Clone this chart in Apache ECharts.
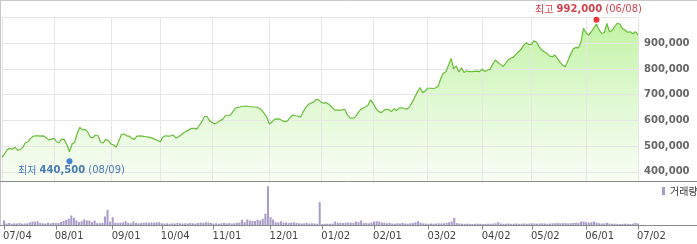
<!DOCTYPE html>
<html><head><meta charset="utf-8">
<script src="https://cdn.jsdelivr.net/npm/echarts@6/dist/echarts.min.js"></script>
<style>html,body{margin:0;padding:0;background:#fff}#c{width:697px;height:244px}</style>
</head><body><div id="c"></div><script>
// x-axis tick labels and the trading-day index they sit on
const tickLabels = ['07/04','08/01','09/01','10/04','11/01','12/01','01/02','02/01','03/02','04/02','05/02','06/01','07/02'];
const tickIndex  = [0, 20, 42, 61, 81, 103, 123, 143, 164, 185, 204, 225, 245];
// price axis
const priceGridValues = [400000, 500000, 600000, 700000, 800000, 900000, 1000000];
const priceLabelValues = [400000, 500000, 600000, 700000, 800000, 900000];
// daily closing prices
const closePrices = [
456000,470000,486000,491000,488000,495000,484000,486000,495000,513000,
517000,530000,538000,540000,540000,539000,540000,532000,524000,527000,
530000,517000,513000,528000,525000,505000,478000,508000,515000,550000,
573000,563000,565000,555000,535000,532000,543000,540000,515000,512000,
527000,520000,508000,504000,496000,520000,545000,547000,540000,539000,
530000,526000,539000,540000,539000,537000,536000,534000,530000,526000,
521000,517000,535000,540000,539000,540000,543000,531000,536000,543000,
552000,558000,563000,569000,569000,566000,580000,595000,615000,615000,
598000,592000,586000,592000,599000,604000,618000,620000,620000,635000,
648000,651000,653000,655000,656000,654000,653000,652000,651000,648000,
640000,627000,612000,586000,594000,604000,606000,605000,598000,595000,
598000,612000,621000,618000,616000,612000,633000,650000,662000,667000,
671000,682000,680000,670000,667000,669000,662000,652000,642000,640000,
640000,641000,643000,622000,610000,608000,612000,627000,641000,647000,
652000,659000,680000,665000,648000,635000,630000,638000,643000,642000,
634000,645000,638000,648000,649000,646000,644000,652000,670000,690000,
710000,728000,708000,714000,725000,725000,724000,726000,733000,762000,
783000,789000,815000,841000,800000,812000,788000,805000,786000,793000,
790000,790000,791000,792000,790000,799000,790000,795000,799000,818000,
835000,826000,818000,809000,822000,836000,842000,846000,858000,867000,
877000,893000,902000,895000,896000,910000,903000,885000,873000,866000,
860000,850000,848000,854000,840000,826000,815000,809000,832000,855000,
878000,884000,882000,903000,958000,940000,932000,945000,960000,975000,
952000,939000,941000,977000,945000,950000,965000,978000,975000,957000,
952000,943000,945000,937000,945000,933000];
// daily volume (thousand shares)
const volumes = [
50,20,25,18,22,20,25,18,20,22,
30,40,38,42,25,22,20,25,22,28,
25,25,35,45,57,67,100,77,50,33,
43,60,50,50,33,50,23,23,27,90,
157,40,83,27,25,28,30,43,25,22,
40,25,22,25,28,30,27,30,28,33,
33,22,20,22,18,22,20,25,22,20,
22,20,25,22,20,25,30,27,33,30,
25,20,22,18,22,25,22,25,20,22,
27,30,57,33,60,50,43,45,57,50,
67,117,393,83,60,33,30,43,27,30,
25,28,33,25,22,20,22,25,20,22,
20,18,233,15,17,18,17,20,40,27,
27,25,28,30,27,25,40,33,50,23,
25,22,30,40,43,40,30,27,22,27,
20,18,22,20,27,20,18,22,25,33,
43,28,22,20,18,20,18,20,22,20,
22,25,33,40,77,23,20,18,17,18,
17,15,17,18,17,15,17,18,17,20,
22,33,20,17,18,20,17,18,20,17,
18,20,18,20,22,20,18,20,22,20,
18,20,22,23,25,22,23,25,22,23,
25,27,25,40,40,33,27,33,40,30,
23,20,22,27,20,17,18,17,15,17,
18,17,15,18,27,20];
// extremes: [day index, price], label words, dates
const highPoint = [229, 992000];
const lowPoint = [26, 440500];
const extremeWords = ['최고', '최저'];
const extremeDates = ['06/08', '08/09'];
const volumeName = '거래량';

const days = closePrices.map((_, i) => String(i));
const tickMap = {};
tickIndex.forEach((d, k) => { tickMap[d] = tickLabels[k]; });
const isTick = (i) => Object.prototype.hasOwnProperty.call(tickMap, i);
const fmt = (v) => String(v).replace(/\B(?=(\d{3})+(?!\d))/g, ',');

function richFor(color) {
  return {
    t: {fontFamily: 'Noto Sans CJK KR', fontSize: 10, color: color},
    v: {fontFamily: 'DejaVu Sans', fontSize: 10, fontWeight: 'bold', color: color},
    d: {fontFamily: 'DejaVu Sans', fontSize: 10, color: color}
  };
}

const chart = echarts.init(document.getElementById('c'), null, {renderer: 'canvas'});
chart.setOption({
  animation: false,
  backgroundColor: '#ffffff',
  textStyle: {fontFamily: 'DejaVu Sans'},
  grid: [
    {left: 2, right: 59, top: 17.6, height: 163.4},
    {left: 2, right: 59, top: 182, height: 43.5}
  ],
  legend: {
    data: [volumeName], left: 662, top: 186, padding: 0,
    itemWidth: 3, itemHeight: 8, icon: 'rect', selectedMode: false,
    textStyle: {fontSize: 10, color: '#333', fontFamily: 'Noto Sans CJK KR'}
  },
  xAxis: [
    {type: 'category', gridIndex: 0, data: days, boundaryGap: false, z: 3,
     axisLine: {show: false}, axisTick: {show: false}, axisLabel: {show: false},
     splitLine: {show: true, interval: (i) => isTick(i), lineStyle: {color: '#e6e6e6', width: 1}}},
    {type: 'category', gridIndex: 1, data: days, boundaryGap: false,
     axisLine: {show: false},
     axisTick: {show: true, interval: (i) => isTick(i), length: 4, lineStyle: {color: '#888'}},
     axisLabel: {interval: (i) => isTick(i), formatter: (v, i) => tickMap[i] || '',
       align: 'left', margin: 6, color: '#444', fontSize: 10, fontFamily: 'DejaVu Sans', padding: [0, 0, 0, -1]},
     splitLine: {show: false}}
  ],
  yAxis: [
    {type: 'value', gridIndex: 0, position: 'right', min: 364000, max: 1000000, z: 3,
     axisLine: {show: false},
     axisTick: {show: false, customValues: priceGridValues},
     axisLabel: {customValues: priceLabelValues, formatter: (v) => fmt(v), margin: 6,
       color: '#666', fontWeight: 'bold', fontSize: 10, fontFamily: 'DejaVu Sans'},
     splitLine: {show: true, lineStyle: {color: '#e6e6e6', width: 1}}},
    {type: 'value', gridIndex: 1, min: 0, max: 435, show: false}
  ],
  series: [
    {type: 'line', name: 'area', xAxisIndex: 0, yAxisIndex: 0, data: closePrices, z: 1,
     showSymbol: false, silent: true, lineStyle: {opacity: 0, width: 0},
     areaStyle: {origin: 'start', color: {type: 'linear', x: 0, y: 0, x2: 0, y2: 1, colorStops: [
       {offset: 0, color: 'rgba(140,234,86,0.76)'},
       {offset: 1, color: 'rgba(175,238,140,0.14)'}]}}},
    {type: 'line', name: 'close', xAxisIndex: 0, yAxisIndex: 0, data: closePrices, z: 4,
     showSymbol: false, silent: true, lineStyle: {color: '#68be38', width: 1.2}},
    {type: 'scatter', name: 'extremes', xAxisIndex: 0, yAxisIndex: 0, z: 5, symbolSize: 6, silent: true,
     data: [
       {value: highPoint, itemStyle: {color: '#e8000b'},
        label: {show: true, position: 'top', distance: 2, offset: [-8, 0],
          formatter: '{t|' + extremeWords[0] + '} {v|' + fmt(highPoint[1]) + '} {d|(' + extremeDates[0] + ')}',
          rich: richFor('#c8101e'), color: '#c8101e', fontSize: 10}},
       {value: lowPoint, itemStyle: {color: '#1a63c8'},
        label: {show: true, position: 'bottom', distance: 1, offset: [2, 0],
          formatter: '{t|' + extremeWords[1] + '} {v|' + fmt(lowPoint[1]) + '} {d|(' + extremeDates[1] + ')}',
          rich: richFor('#1f5aa8'), color: '#1f5aa8', fontSize: 10}}
     ]},
    {type: 'bar', name: volumeName, xAxisIndex: 1, yAxisIndex: 1, data: volumes, barWidth: 2,
     itemStyle: {color: '#a99bc9'}, silent: true}
  ],
  graphic: [
    {type: 'line', z: 100, shape: {x1: 0, y1: 0.5, x2: 697, y2: 0.5}, style: {stroke: '#c8c8c8', lineWidth: 1}},
    {type: 'line', z: 100, shape: {x1: 0.5, y1: 0, x2: 0.5, y2: 226}, style: {stroke: '#c8c8c8', lineWidth: 1}},
    {type: 'line', z: 100, shape: {x1: 0, y1: 181.5, x2: 697, y2: 181.5}, style: {stroke: '#8a8a8a', lineWidth: 1}},
    {type: 'line', z: 100, shape: {x1: 0, y1: 225.5, x2: 697, y2: 225.5}, style: {stroke: '#8a8a8a', lineWidth: 1}}
  ]
});
</script></body></html>
